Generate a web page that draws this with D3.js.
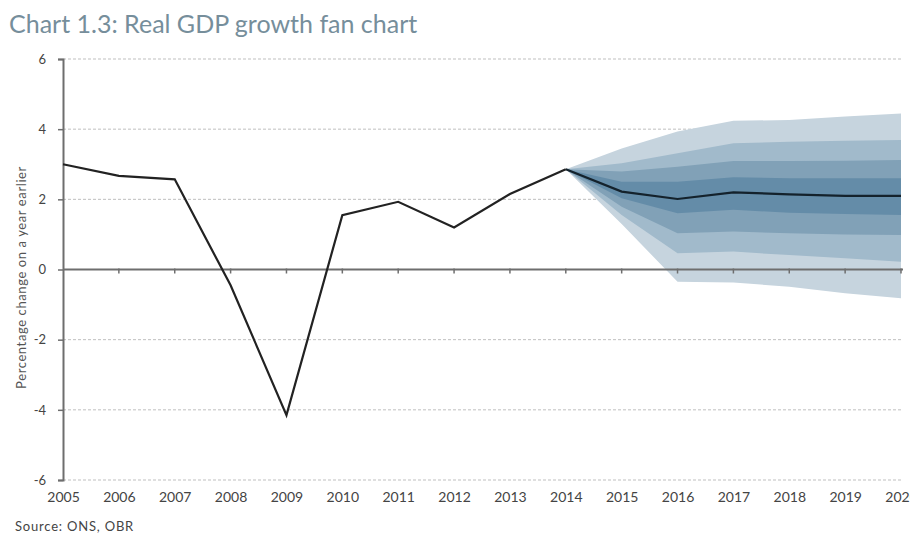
<!DOCTYPE html>
<html>
<head>
<meta charset="utf-8">
<script src="https://cdn.jsdelivr.net/npm/d3@7"></script>
<style>
  body { margin: 0; background: #fff; }
  svg { display: block; font-family: "Lato", "Open Sans", sans-serif; }
</style>
</head>
<body>
<svg id="chart" width="910" height="535"></svg>
<script>
// ---- Data ----
const histYears = [2005, 2006, 2007, 2008, 2009, 2010, 2011, 2012, 2013, 2014];
const histValues = [3.0, 2.67, 2.57, -0.45, -4.15, 1.55, 1.93, 1.2, 2.15, 2.86];

const fanYears = [2014, 2015, 2016, 2017, 2018, 2019, 2020];
const median   = [2.86, 2.22, 2.01, 2.20, 2.14, 2.10, 2.10];
// band bounds (lower/upper) from outermost to innermost
const outerUpper = [2.86, 3.45, 3.93, 4.24, 4.26, 4.36, 4.45];
const outerLower = [2.86, 1.30, -0.35, -0.37, -0.49, -0.68, -0.82];
const band2Upper = [2.86, 3.03, 3.31, 3.60, 3.64, 3.67, 3.69];
const band2Lower = [2.86, 1.55, 0.46, 0.51, 0.41, 0.32, 0.22];
const band3Upper = [2.86, 2.79, 2.93, 3.09, 3.09, 3.10, 3.12];
const band3Lower = [2.86, 1.79, 1.03, 1.08, 1.03, 1.00, 0.98];
const innerUpper = [2.86, 2.50, 2.50, 2.63, 2.60, 2.60, 2.60];
const innerLower = [2.86, 2.03, 1.60, 1.70, 1.62, 1.58, 1.55];

const yTicks = [-6, -4, -2, 0, 2, 4, 6];
const yTickLabels = ["-6", "-4", "-2", "0", "2", "4", "6"];
const xTicks = d3.range(2005, 2021);
const xTickLabels = ["2005","2006","2007","2008","2009","2010","2011","2012","2013","2014","2015","2016","2017","2018","2019","2020"];

const bands = [
  { upper: outerUpper, lower: outerLower, color: "#c6d4de" },
  { upper: band2Upper, lower: band2Lower, color: "#a1bacb" },
  { upper: band3Upper, lower: band3Lower, color: "#81a1b7" },
  { upper: innerUpper, lower: innerLower, color: "#648ca8" }
];

// ---- Chart ----
const svg = d3.select("#chart");
const x = d3.scaleLinear().domain([2005, 2020]).range([63, 901]);
const y = d3.scaleLinear().domain([-6, 6]).range([480, 59]);

// title
svg.append("text")
  .attr("x", 9).attr("y", 33)
  .attr("fill", "#768e9b")
  .attr("font-size", 25)
  .text("Chart 1.3: Real GDP growth fan chart");

// gridlines (dashed), excluding 0
svg.append("g").selectAll("line")
  .data(yTicks.filter(d => d !== 0))
  .join("line")
  .attr("x1", 63).attr("x2", 903)
  .attr("y1", d => y(d)).attr("y2", d => y(d))
  .attr("stroke", "#bfbfbf")
  .attr("stroke-width", 1)
  .attr("stroke-dasharray", "3,2");

// fan bands
bands.forEach(b => {
  const area = d3.area()
    .x((d, i) => x(fanYears[i]))
    .y0((d, i) => y(b.lower[i]))
    .y1((d, i) => y(b.upper[i]));
  svg.append("path")
    .datum(fanYears)
    .attr("d", area)
    .attr("fill", b.color);
});

// zero axis
svg.append("line")
  .attr("x1", 63).attr("x2", 903)
  .attr("y1", y(0)).attr("y2", y(0))
  .attr("stroke", "#6e6e6e").attr("stroke-width", 2);

// x ticks on zero line
svg.append("g").selectAll("line")
  .data(xTicks.slice(1))
  .join("line")
  .attr("x1", d => x(d)).attr("x2", d => x(d))
  .attr("y1", y(0) - 1).attr("y2", y(0) + 4)
  .attr("stroke", "#6e6e6e").attr("stroke-width", 1.5);

// y axis
const yAxis = d3.axisLeft(y).tickValues(yTicks).tickSize(5).tickPadding(12)
  .tickFormat((d, i) => yTickLabels[i]);
const gy = svg.append("g").attr("transform", "translate(63,0)").call(yAxis);
gy.select(".domain").attr("stroke", "#6e6e6e").attr("stroke-width", 2);
gy.selectAll(".tick line").attr("stroke", "#6e6e6e").attr("stroke-width", 1.5);
gy.selectAll(".tick text").attr("fill", "#444").attr("font-size", 13).attr("font-family", "Lato, sans-serif");

// x labels
const xAxis = d3.axisBottom(x).tickValues(xTicks).tickSize(0).tickPadding(0)
  .tickFormat((d, i) => xTickLabels[i]);
const gx = svg.append("g").attr("transform", `translate(0,${y(-6) + 10})`).call(xAxis);
gx.select(".domain").remove();
gx.selectAll(".tick text").attr("fill", "#444").attr("font-size", 14).attr("dy", "0.85em").attr("font-family", "Lato, sans-serif");

// historic line
const line = d3.line().x((d, i) => x(histYears[i])).y(d => y(d));
svg.append("path")
  .datum(histValues)
  .attr("d", line)
  .attr("fill", "none")
  .attr("stroke", "#222")
  .attr("stroke-width", 2.2)
  .attr("stroke-linejoin", "miter");

// median projection line
const mline = d3.line().x((d, i) => x(fanYears[i])).y(d => y(d));
svg.append("path")
  .datum(median)
  .attr("d", mline)
  .attr("fill", "none")
  .attr("stroke", "#14222c")
  .attr("stroke-width", 2.2);

// y axis title
svg.append("text")
  .attr("transform", `translate(26,${(y(6) + y(-6)) / 2 + 8}) rotate(-90)`)
  .attr("text-anchor", "middle")
  .attr("fill", "#555")
  .attr("font-size", 13)
  .attr("letter-spacing", 0.6)
  .text("Percentage change on a year earlier");

// source
svg.append("text")
  .attr("x", 15).attr("y", 531)
  .attr("fill", "#444")
  .attr("font-size", 13)
  .attr("letter-spacing", 0.8)
  .text("Source: ONS, OBR");
</script>
</body>
</html>
